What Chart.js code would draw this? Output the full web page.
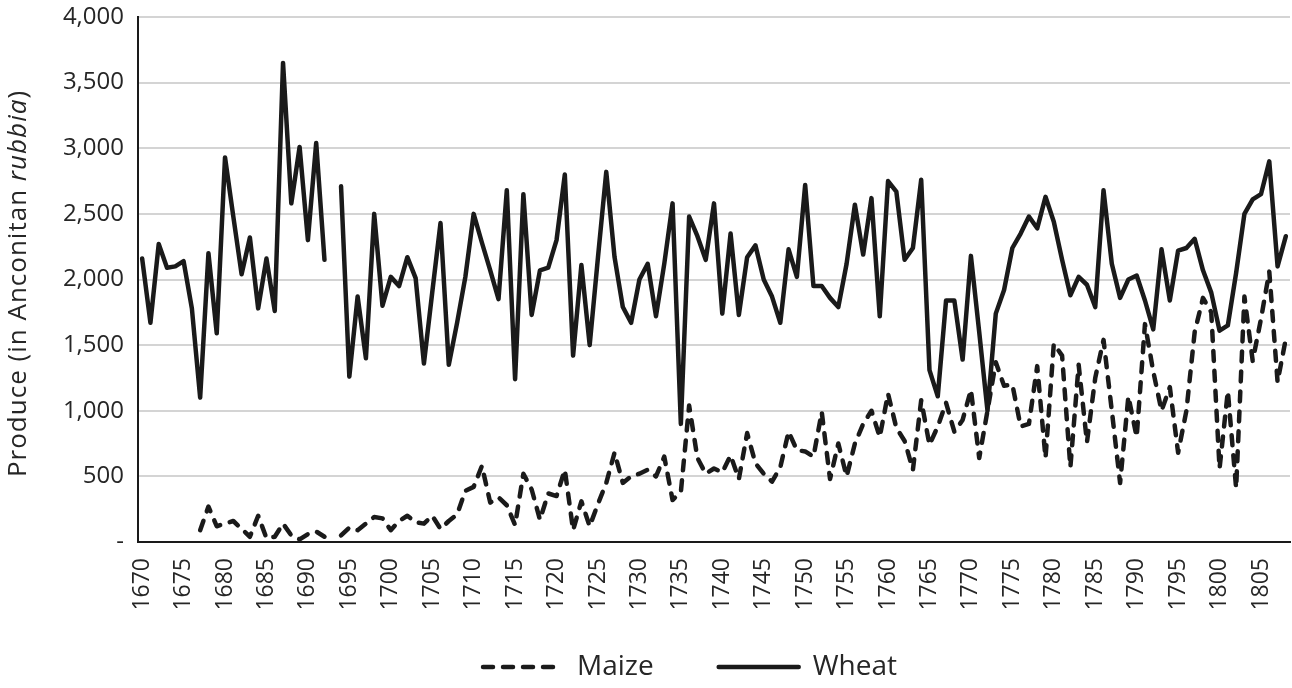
<!DOCTYPE html>
<html>
<head>
<meta charset="utf-8">
<script src="https://cdn.jsdelivr.net/npm/chart.js@4.4.1/dist/chart.umd.min.js"></script>
<style>
  html, body { margin: 0; padding: 0; background: #fff; }
</style>
</head>
<body>
<canvas id="produceChart" width="1292" height="688"></canvas>
<script>
    // Categories: one per harvest year
    var firstYear = 1670;
    var lastYear = 1808;
    var years = [];
    for (var yr = firstYear; yr <= lastYear; yr++) years.push(String(yr));

    var yTicks = [0, 500, 1000, 1500, 2000, 2500, 3000, 3500, 4000];

    // Wheat produce (Anconitan rubbia)
    var wheat = [
      2160, 1670, 2270, 2090, 2100, 2140, 1780, 1100, 2200, 1590, // 1670s
      2930, 2480, 2040, 2320, 1780, 2160, 1760, 3650, 2580, 3010, // 1680s
      2300, 3040, 2150, null, 2710, 1260, 1870, 1400, 2500, 1800, // 1690s
      2020, 1950, 2170, 2010, 1360, 1900, 2430, 1350, 1670, 2020, // 1700s
      2500, 2280, 2070, 1850, 2680, 1240, 2650, 1730, 2070, 2090, // 1710s
      2300, 2800, 1420, 2110, 1500, 2170, 2820, 2170, 1790, 1670, // 1720s
      2000, 2120, 1720, 2120, 2580, 900, 2480, 2330, 2150, 2580,  // 1730s
      1740, 2350, 1730, 2170, 2260, 2000, 1870, 1670, 2230, 2020, // 1740s
      2720, 1950, 1950, 1860, 1790, 2120, 2570, 2190, 2620, 1720, // 1750s
      2750, 2670, 2150, 2240, 2760, 1310, 1110, 1840, 1840, 1390, // 1760s
      2180, 1600, 1000, 1740, 1920, 2240, 2350, 2480, 2390, 2630, // 1770s
      2440, 2150, 1880, 2020, 1960, 1790, 2680, 2120, 1860, 2000, // 1780s
      2030, 1840, 1620, 2230, 1840, 2220, 2240, 2310, 2070, 1900, // 1790s
      1610, 1650, 2050, 2500, 2610, 2650, 2900, 2100, 2330        // 1800-1808
    ];

    // Maize produce (Anconitan rubbia)
    var maize = [
      null, null, null, null, null, null, null, 90, 270, 120,    // 1670s
      140, 160, 100, 40, 200, 30, 40, 140, 50, 20,               // 1680s
      60, 80, 40, null, 50, 110, 90, 140, 190, 180,              // 1690s
      90, 160, 200, 150, 140, 200, 100, 160, 210, 390,           // 1700s
      420, 580, 300, 340, 280, 130, 520, 400, 170, 370,          // 1710s
      350, 550, 90, 310, 120, 290, 450, 680, 450, 500,           // 1720s
      520, 550, 500, 650, 320, 380, 1040, 640, 520, 560,         // 1730s
      530, 660, 480, 830, 600, 520, 460, 570, 840, 700,          // 1740s
      690, 650, 990, 480, 750, 500, 750, 900, 1000, 800,         // 1750s
      1130, 870, 770, 550, 1080, 740, 880, 1060, 840, 930,       // 1760s
      1160, 640, 1000, 1370, 1190, 1200, 880, 900, 1340, 640,    // 1770s
      1510, 1420, 570, 1350, 760, 1250, 1540, 1000, 450, 1110,   // 1780s
      800, 1660, 1300, 1000, 1180, 680, 1000, 1600, 1860, 1750,  // 1790s
      560, 1150, 410, 1870, 1380, 1700, 2060, 1220, 1550         // 1800-1808
    ];

    var yTitleParts = [['Produce (in Anconitan ', 'normal'], ['rubbia', 'italic'], [')', 'normal']];

    var fontFamily = '"Open Sans", "Noto Sans", sans-serif';
    var textColor = '#262626';
    var lineColor = '#1a1a1a';

    Chart.defaults.font.family = fontFamily;
    Chart.defaults.color = textColor;

    // y axis title with an italic word, drawn next to the axis
    var yTitlePlugin = {
      id: 'yTitle',
      afterDraw: function (chart) {
        var ctx = chart.ctx;
        var area = chart.chartArea;
        ctx.save();
        ctx.translate(19, (area.top + area.bottom) / 2 + 4);
        ctx.rotate(-Math.PI / 2);
        ctx.fillStyle = textColor;
        ctx.textBaseline = 'middle';
        ctx.textAlign = 'left';
        ctx.letterSpacing = '1px';
        var total = 0;
        yTitleParts.forEach(function (p) {
          ctx.font = p[1] + ' 26px ' + fontFamily;
          total += ctx.measureText(p[0]).width;
        });
        var x = -total / 2;
        yTitleParts.forEach(function (p) {
          ctx.font = p[1] + ' 26px ' + fontFamily;
          ctx.fillText(p[0], x, 0);
          x += ctx.measureText(p[0]).width;
        });
        ctx.restore();
      }
    };

    // legend: small reserved height, then moved up and right like the original
    var legendPlacePlugin = {
      id: 'legendPlace',
      afterInit: function (chart) {
        var legend = chart.legend;
        if (!legend) return;
        var fit = legend.fit;
        legend.fit = function () {
          fit.call(this);
          this.height = 80;
        };
      },
      afterLayout: function (chart) {
        var legend = chart.legend;
        if (!legend) return;
        legend.left += 45;
        legend.right += 45;
        legend.top = 588;
        legend.bottom = 688;
      }
    };

    var produceData = {
      labels: years,
      datasets: [{
        label: 'Maize',
        data: maize,
        borderColor: lineColor,
        backgroundColor: lineColor,
        borderWidth: 4.5,
        borderDash: [10, 10],
        borderCapStyle: 'round',
        borderJoinStyle: 'round',
        pointRadius: 0,
        tension: 0,
        spanGaps: false
      }, {
        label: 'Wheat',
        data: wheat,
        borderColor: lineColor,
        backgroundColor: lineColor,
        borderWidth: 4.5,
        borderCapStyle: 'round',
        borderJoinStyle: 'round',
        pointRadius: 0,
        tension: 0,
        spanGaps: false
      }]
    };

    var produceOptions = {
      responsive: false,
      animation: false,
      devicePixelRatio: 1,
      layout: {
        padding: { top: 17, right: 2, bottom: 0, left: 0 }
      },
      plugins: {
        tooltip: { enabled: false },
        legend: {
          position: 'bottom',
          labels: {
            usePointStyle: true,
            pointStyle: 'line',
            pointStyleWidth: 80,
            boxHeight: 28,
            padding: 65,
            font: { size: 28 },
            color: textColor,
            generateLabels: function (chart) {
              var items = Chart.defaults.plugins.legend.labels.generateLabels(chart);
              items.forEach(function (it) {
                var ds = chart.data.datasets[it.datasetIndex];
                it.lineDash = ds.borderDash || [];
                it.lineWidth = ds.borderWidth;
                it.lineCap = 'round';
                it.strokeStyle = ds.borderColor;
              });
              return items;
            }
          }
        }
      },
      scales: {
        x: {
          offset: true,
          grid: { display: false },
          border: { display: true, color: lineColor, width: 2 },
          ticks: {
            autoSkip: false,
            minRotation: 90,
            maxRotation: 90,
            padding: 8,
            font: { size: 23 },
            color: textColor,
            callback: function (val, i) {
              return Number(years[i]) % 5 === 0 ? years[i] : '';
            }
          },
          afterFit: function (scale) {
            scale.height = 66;
            scale.paddingLeft = 0;
            scale.paddingRight = 0;
          }
        },
        y: {
          min: yTicks[0],
          max: yTicks[yTicks.length - 1],
          afterBuildTicks: function (scale) {
            scale.ticks = yTicks.map(function (v) { return { value: v }; });
          },
          grid: { color: '#d4d4d4', lineWidth: 2, drawTicks: false },
          border: { display: true, color: lineColor, width: 2 },
          ticks: {
            padding: 14,
            font: { size: 24 },
            color: textColor,
            callback: function (v) {
              return v === 0 ? '-' : v.toLocaleString('en-US');
            }
          },
          afterFit: function (scale) {
            scale.width = 138;
            scale.paddingTop = 0;
            scale.paddingBottom = 0;
          }
        }
      }
    };

    var produceChart = new Chart(document.getElementById('produceChart'), {
      type: 'line',
      data: produceData,
      options: produceOptions,
      plugins: [yTitlePlugin, legendPlacePlugin]
    });
</script>
</body>
</html>
